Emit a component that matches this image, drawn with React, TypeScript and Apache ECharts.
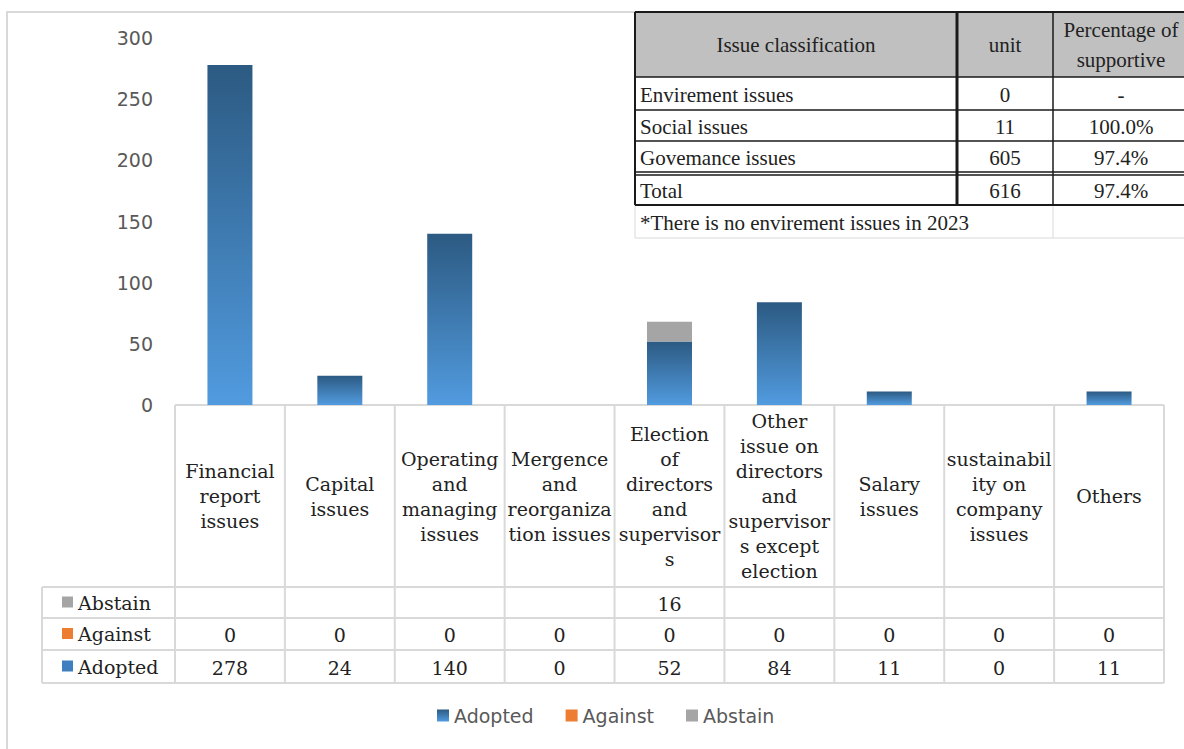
import React, { useEffect, useRef } from "react";
import * as echarts from "echarts";

const categories = [
  "Financial\nreport\nissues",
  "Capital\nissues",
  "Operating\nand\nmanaging\nissues",
  "Mergence\nand\nreorganiza\ntion issues",
  "Election\nof\ndirectors\nand\nsupervisor\ns",
  "Other\nissue on\ndirectors\nand\nsupervisor\ns except\nelection",
  "Salary\nissues",
  "sustainabil\nity on\ncompany\nissues",
  "Others",
];
const adopted = [278, 24, 140, 0, 52, 84, 11, 0, 11];
const against = [0, 0, 0, 0, 0, 0, 0, 0, 0];
const abstain: (number | null)[] = [null, null, null, null, 16, null, null, null, null];
const seriesNames = ["Adopted", "Against", "Abstain"];
const seriesColors = ["#3f7fc0", "#ed7d31", "#a5a5a5"];
const yTicks = { min: 0, max: 300, interval: 50 };

const summaryHeader = ["Issue classification", "unit", "Percentage of\nsupportive"];
const summaryRows = [
  ["Envirement issues", "0", "-"],
  ["Social issues", "11", "100.0%"],
  ["Govemance issues", "605", "97.4%"],
];
const summaryTotal = ["Total", "616", "97.4%"];
const summaryNote = "*There is no envirement issues in 2023";

const SERIF = "'Liberation Serif', 'Times New Roman', serif";
const WSERIF = "'DejaVu Serif', serif";
const SANS = "'DejaVu Sans', sans-serif";

export default function App() {
  const ref = useRef<HTMLDivElement>(null);
  useEffect(() => {
    if (!ref.current) return;
    const chart = echarts.init(ref.current, null, { renderer: "svg" });

    const gl = 175, gr = 1164, gTop = 38, gBot = 405;
    const colW = (gr - gl) / categories.length;
    const rowYs = [587, 618, 650, 683];
    const lineCol = "#d9d9d9";
    const g: any[] = [];

    // outer frame
    g.push({ type: "polyline", shape: { points: [[7, 749], [7, 12], [1184, 12]] }, style: { stroke: lineCol, lineWidth: 2, fill: null }, z: 0 });

    // data table lines
    for (let i = 0; i <= categories.length; i++) {
      const x = gl + i * colW;
      g.push({ type: "line", shape: { x1: x, y1: gBot, x2: x, y2: rowYs[3] }, style: { stroke: lineCol, lineWidth: 2 } });
    }
    g.push({ type: "line", shape: { x1: gl, y1: gBot, x2: gr, y2: gBot }, style: { stroke: lineCol, lineWidth: 2 } });
    g.push({ type: "line", shape: { x1: 42, y1: rowYs[0], x2: 42, y2: rowYs[3] }, style: { stroke: lineCol, lineWidth: 2 } });
    rowYs.forEach((y) => g.push({ type: "line", shape: { x1: 42, y1: y, x2: gr, y2: y }, style: { stroke: lineCol, lineWidth: 2 } }));

    const rowData: [string, string, (number | null)[]][] = [
      ["Abstain", seriesColors[2], abstain],
      ["Against", seriesColors[1], against],
      ["Adopted", seriesColors[0], adopted],
    ];
    rowData.forEach(([name, col, vals], r) => {
      const cy = (rowYs[r] + rowYs[r + 1]) / 2;
      g.push({ type: "rect", shape: { x: 62, y: cy - 6, width: 11, height: 11 }, style: { fill: col } });
      g.push({ type: "text", x: 78, y: cy, style: { text: name, font: `19px ${WSERIF}`, fill: "#222", verticalAlign: "middle", align: "left" } });
      vals.forEach((v, i) => {
        if (v === null) return;
        g.push({ type: "text", x: gl + (i + 0.5) * colW, y: cy + 1, style: { text: String(v), font: `19px ${WSERIF}`, fill: "#222", verticalAlign: "middle", align: "center" } });
      });
    });

    // summary table
    const tx = [635, 957, 1053, 1190];
    const ty = [12, 77, 110, 141, 172, 205, 238];
    g.push({ type: "rect", shape: { x: tx[0], y: ty[0], width: 1184 - tx[0], height: ty[1] - ty[0] }, style: { fill: "#c0c0c0" } });
    g.push({ type: "rect", shape: { x: tx[0], y: ty[1], width: 1184 - tx[0], height: ty[6] - ty[1] }, style: { fill: "#fff" } });
    g.push({ type: "line", shape: { x1: tx[0], y1: ty[5], x2: tx[0], y2: ty[6] }, style: { stroke: lineCol, lineWidth: 1 } });
    g.push({ type: "line", shape: { x1: tx[2], y1: ty[5], x2: tx[2], y2: ty[6] }, style: { stroke: lineCol, lineWidth: 1 } });
    g.push({ type: "line", shape: { x1: tx[0], y1: ty[6], x2: 1184, y2: ty[6] }, style: { stroke: lineCol, lineWidth: 1 } });
    const dk = "#1a1a1a";
    [ty[0], ty[1], ty[2], ty[3], ty[5]].forEach((y) => g.push({ type: "line", shape: { x1: tx[0], y1: y, x2: 1184, y2: y }, style: { stroke: dk, lineWidth: y === ty[0] || y === ty[5] ? 2 : 1.5 } }));
    g.push({ type: "line", shape: { x1: tx[0], y1: ty[4], x2: 1184, y2: ty[4] }, style: { stroke: dk, lineWidth: 1.5 } });
    g.push({ type: "line", shape: { x1: tx[0], y1: ty[4] + 3, x2: 1184, y2: ty[4] + 3 }, style: { stroke: dk, lineWidth: 1.5 } });
    g.push({ type: "line", shape: { x1: tx[0], y1: ty[0], x2: tx[0], y2: ty[5] }, style: { stroke: dk, lineWidth: 2 } });
    g.push({ type: "line", shape: { x1: tx[1], y1: ty[0], x2: tx[1], y2: ty[5] }, style: { stroke: dk, lineWidth: 3 } });
    g.push({ type: "line", shape: { x1: tx[2], y1: ty[0], x2: tx[2], y2: ty[5] }, style: { stroke: dk, lineWidth: 1.5 } });

    const cx = [(tx[0] + tx[1]) / 2, (tx[1] + tx[2]) / 2, 1121];
    const tfont = `21px ${SERIF}`;
    summaryHeader.forEach((h, i) => {
      g.push({ type: "text", x: cx[i], y: (ty[0] + ty[1]) / 2, style: { text: h, font: tfont, fill: "#222", align: "center", verticalAlign: "middle", lineHeight: 30 } });
    });
    const allRows = [...summaryRows, summaryTotal];
    allRows.forEach((row, r) => {
      const top = r < 3 ? ty[r + 1] : ty[4] + 3;
      const bot = r < 3 ? ty[r + 2] : ty[5];
      const cy = (top + bot) / 2 + 1;
      row.forEach((c, i) => {
        g.push({ type: "text", x: i === 0 ? 640 : cx[i], y: cy, style: { text: c, font: tfont, fill: "#222", align: i === 0 ? "left" : "center", verticalAlign: "middle" } });
      });
    });
    g.push({ type: "text", x: 640, y: (ty[5] + ty[6]) / 2 + 1, style: { text: summaryNote, font: tfont, fill: "#222", align: "left", verticalAlign: "middle" } });

    chart.setOption({
      animation: false,
      backgroundColor: "#fff",
      grid: { left: gl, right: 1184 - gr, top: gTop, bottom: 749 - gBot },
      legend: {
        data: seriesNames,
        top: 701,
        left: 432,
        icon: "rect",
        itemWidth: 12,
        itemHeight: 12,
        itemGap: 32,
        textStyle: { color: "#595959", fontSize: 19, fontFamily: SANS },
      },
      xAxis: {
        type: "category",
        data: categories,
        axisLine: { show: false },
        axisTick: { show: false },
        axisLabel: {
          interval: 0,
          margin: 91,
          verticalAlign: "middle",
          lineHeight: 25,
          fontSize: 19,
          fontFamily: WSERIF,
          color: "#222",
        },
      },
      yAxis: {
        type: "value",
        min: yTicks.min,
        max: yTicks.max,
        interval: yTicks.interval,
        splitLine: { show: false },
        axisLine: { show: false },
        axisTick: { show: false },
        axisLabel: { margin: 22, fontSize: 19, fontFamily: SANS, color: "#595959" },
      },
      series: [
        {
          name: seriesNames[0],
          type: "bar",
          stack: "total",
          barWidth: 45,
          data: adopted,
          itemStyle: {
            color: new echarts.graphic.LinearGradient(0, 0, 0, 1, [
              { offset: 0, color: "#2c5a82" },
              { offset: 1, color: "#519bdf" },
            ]),
          },
        },
        { name: seriesNames[1], type: "bar", stack: "total", barWidth: 45, data: against, itemStyle: { color: seriesColors[1] } },
        { name: seriesNames[2], type: "bar", stack: "total", barWidth: 45, data: abstain, itemStyle: { color: seriesColors[2] } },
      ],
      graphic: g,
    });
    return () => chart.dispose();
  }, []);
  return <div ref={ref} style={{ position: "fixed", left: 0, top: 0, width: 1184, height: 749, background: "#fff" }} />;
}
